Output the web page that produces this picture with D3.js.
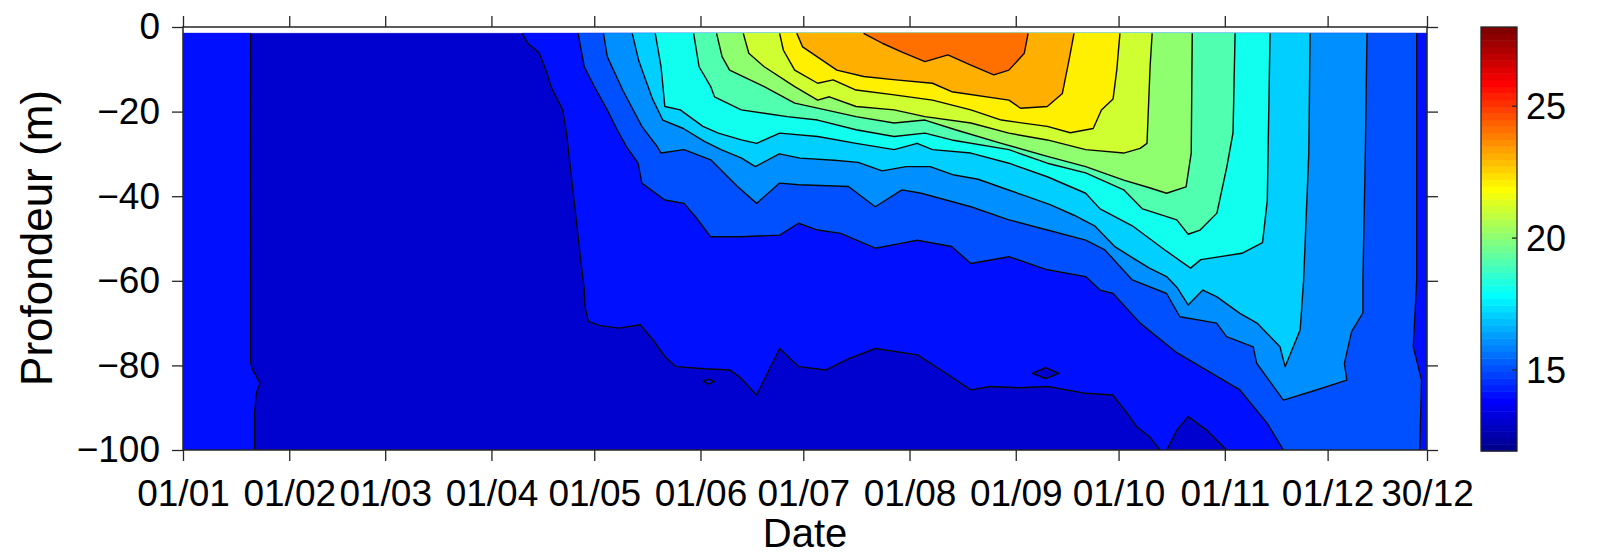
<!DOCTYPE html>
<html>
<head>
<meta charset="utf-8">
<script src="https://cdn.jsdelivr.net/npm/d3@7"></script>
<style>
  body { margin: 0; background: #fff; }
  text { font-family: "Liberation Sans", Arial, Helvetica, sans-serif; fill: #000; }
</style>
</head>
<body>
<svg id="chart" width="1603" height="558"></svg>
<script>
// Seasonal temperature section: isotherm positions as [day of year, depth (m)]
const dateTicks = ["01/01","01/02","01/03","01/04","01/05","01/06","01/07","01/08","01/09","01/10","01/11","01/12","30/12"];
const depthTicks = [0, -20, -40, -60, -80, -100];
const colorTicks = [15, 20, 25];
const tempRange = [11.93, 28];
const baseLevel = 13;
const firstDay = 0, lastDay = 363, topDepth = 1.5, bottomDepth = 100;

const iso14Jan = [[19.76,1.5],[19.7,30],[19.76,60],[19.76,79.5],[20.3,81],[22.5,84.2],[21.4,86.6],[20.9,91.3],[20.9,100]];
const iso14Main = [[99,1.5],[100.7,3.9],[104,6.2],[106.3,11],[107.4,14.1],[110.8,19.6],[111.9,25],[114.1,40.9],[116.3,56.7],[117.1,62],[117.3,66],[118.3,69.6],[121.7,70.6],[127.2,71.2],[133.4,70.4],[137.2,74],[140.6,77.9],[143.9,80.3],[152,80.8],[159.6,81.1],[162.4,82.7],[167.4,87],[174.1,76],[179.7,80.3],[187.5,81.1],[194,78.5],[202,76],[214.3,77.5],[222,81.5],[229.9,85.8],[235.5,85],[244,85.3],[252.3,85],[263.4,86.6],[271.3,87],[275.5,91.3],[278.3,94.5],[282.2,97],[285.1,100]];
const iso14Pocket = [[287.1,100],[290,95.3],[293.3,92.1],[298.7,95.3],[304.5,100]];
const iso14Spot = [[151.8,83.8],[153.4,83.3],[155,83.8],[153.4,84.4]];
const iso14Lens = [[247.8,81.9],[251.7,80.5],[255.6,81.9],[251.7,83.1]];
const iso15Left = [[115.3,1.5],[117.1,9.4],[120,14],[123.8,19.6],[126.5,24],[129.4,28.3],[132.8,32.2],[133.9,36.9],[140.6,40.9],[146.2,41.7],[149.5,44.8],[154,49.6],[162.9,49.6],[174.1,49.2],[179.6,46.4],[185.2,48],[191.9,48.8],[202,52.3],[209.8,51.1],[214.2,50.4],[224.3,51.9],[229.9,55.9],[241,54.3],[252.2,57.4],[263.4,59],[267.6,62.2],[271.4,63],[279.3,70],[290,77],[308.4,85.8],[316.3,93.6],[321.1,100]];
const iso15Right = [[360,1.5],[360,59.8],[359,75.6],[361.4,83.5],[360.9,100]];
const iso16 = [[122.7,1.5],[123.8,7],[128.3,14.9],[133.9,23.5],[138.4,28.3],[139.5,29.8],[146.2,29],[154,31.4],[161.8,37.7],[167.4,41.7],[174.1,36.9],[179.6,37.3],[194.2,37.7],[202,42.5],[209.8,38.5],[215.4,39.3],[229.9,42.5],[241,45.6],[252.2,48],[263.4,50.4],[269,52.7],[277,59.8],[287,63],[290.9,68.5],[301.6,70],[304.5,73.2],[312.3,75.6],[313.3,79.5],[321.1,88.2],[330,86],[339.6,83.5],[338.9,79.5],[341,72],[344.3,67.6],[344.3,59.8],[345,30],[345.5,1.5]];
const iso17 = [[131.1,1.5],[133,8],[137,17],[140,22],[146,24],[152,27],[157,29],[163,31],[167,33],[174,30],[180,31],[190,31.5],[197,32],[204,34],[211,33],[218,33],[225,35],[232,36],[239,38],[246,40],[253,42],[260,44.5],[266,47],[272,52],[277,54.5],[282,57],[287,59],[290,61.5],[293.3,65.7],[297.6,62.2],[301.7,63.8],[308.4,67.7],[313.4,70],[320.1,75.6],[321.6,80.3],[326,71.6],[327,59.8],[328.5,30],[328.9,1.5]];
const iso18 = [[137.8,1.5],[139.5,9.4],[140.6,18.8],[145.1,19.6],[151.7,23.5],[156.2,25.1],[162.9,26.7],[167.4,27.5],[174.1,25.1],[185.2,25.9],[196.4,27.5],[207.5,29],[214.2,27.5],[218.7,29],[229.9,29.8],[241,32.2],[252.2,35.4],[263.4,39.3],[267.6,43],[277,47],[287,53],[294,57],[297,55],[309,53.5],[315,51],[316.4,41],[317.2,1.5]];
const iso19 = [[149,1.5],[150.6,9.4],[154,14.1],[155.1,16.5],[162.9,19.6],[169.6,20.4],[176.3,21.2],[185.2,22],[196.4,24.3],[207.5,25.9],[216.5,25.1],[224.3,26.7],[241,29],[252.2,32.2],[263.4,34.5],[274.5,38.5],[280,43],[290,45.6],[293.3,49],[296.8,48],[301.7,44],[304.6,33],[306.4,25],[307,1.5]];
const iso20 = [[155.7,1.5],[157.3,7],[159.5,10.2],[169.6,14.1],[178.5,18],[187.5,19.6],[196.4,21.2],[207.5,22.7],[216.5,22],[225.4,24.3],[238.8,27.5],[252.2,30.6],[263.4,33],[274.5,36.2],[282,38],[287,39.3],[292.7,37.8],[294.2,29.8],[294.5,1.5]];
const iso21 = [[163.5,1.5],[165.1,6.2],[169.6,9.4],[178.5,14.1],[185.2,17.3],[188.6,16.5],[196.4,18.8],[207.5,19.6],[216.5,21.2],[229.9,22.7],[241,25.1],[252.2,26.7],[263.4,29],[274.5,29.8],[279.3,28.7],[281.3,27.5],[282.2,9.4],[282.8,1.5]];
const iso22 = [[174.1,1.5],[175.2,5.5],[178.5,10.2],[185.2,13.3],[189.7,12.5],[196.4,14.9],[207,16],[218.7,17.3],[229.9,19.6],[238.8,22],[252.2,23.5],[258.9,25],[265.6,24],[268,19.6],[271.4,17],[272.5,10],[273.4,1.5]];
const iso23 = [[179.1,1.5],[180.8,4.7],[190.8,10.2],[198.6,11.7],[208,12.5],[218.7,13.3],[224.3,15.3],[241,17.3],[244.4,19.2],[252.2,18.8],[256.6,15.7],[258.5,8],[260,1.5]];
const iso24 = [[198.6,1.5],[204.2,3.9],[210,6],[216.5,8.2],[223.2,6.6],[229.9,9],[236.6,11.3],[241,10.2],[245.5,6.2],[246.6,1.5]];

// ---- scales ----
const parseDay = d3.utcParse("%d/%m/%Y");
const tickDates = dateTicks.map(s => parseDay(s + "/2021"));
const t0 = tickDates[0].getTime();
const dayToDate = d => new Date(t0 + d * 864e5);

const x = d3.scaleUtc().domain([tickDates[0], tickDates[tickDates.length - 1]]).range([183, 1427]);
const y = d3.scaleLinear().domain([-100, 0]).range([450, 27]);

// classic 64-step "jet" colour map
const jet64 = d3.range(64).map(k => {
  const i = k + 1;
  const r = i <= 24 ? 0 : i <= 40 ? (i - 24) / 16 : i <= 56 ? 1 : (72 - i) / 16;
  const g = i <= 8 ? 0 : i <= 24 ? (i - 8) / 16 : i <= 40 ? 1 : i <= 56 ? (56 - i) / 16 : 0;
  const b = i <= 8 ? (8 + i) / 16 : i <= 24 ? 1 : i <= 40 ? (40 - i) / 16 : 0;
  return d3.rgb(Math.round(255 * r), Math.round(255 * g), Math.round(255 * b)).toString();
});
const color = d3.scaleQuantize().domain(tempRange).range(jet64);

const toPx = p => [x(dayToDate(p[0])), y(-p[1])];
const lineGen = d3.line();
const polyPath = pts => lineGen(pts.map(toPx)) + "Z";

const svg = d3.select("#chart");
const ink = "#262626";

svg.append("clipPath").attr("id", "plotClip")
  .append("rect").attr("x", 183).attr("y", 27).attr("width", 1244).attr("height", 423);

const field = svg.append("g").attr("clip-path", "url(#plotClip)");

// filled bands, lowest first; each band takes the colour of its lower level
const bands = [
  { level: baseLevel, pts: [[firstDay, topDepth], [lastDay, topDepth], [lastDay, bottomDepth], [firstDay, bottomDepth]] },
  { level: 14, pts: [[firstDay, topDepth], ...iso14Jan, [firstDay, bottomDepth]] },
  { level: 14, pts: [...iso14Main, ...iso14Pocket, [lastDay, bottomDepth], [lastDay, topDepth]] },
  { level: 14, pts: iso14Spot },
  { level: baseLevel, pts: iso14Lens },
  { level: 15, pts: [...iso15Left, ...iso15Right.slice().reverse()] },
  { level: 16, pts: iso16 },
  { level: 17, pts: iso17 },
  { level: 18, pts: iso18 },
  { level: 19, pts: iso19 },
  { level: 20, pts: iso20 },
  { level: 21, pts: iso21 },
  { level: 22, pts: iso22 },
  { level: 23, pts: iso23 },
  { level: 24, pts: iso24 }
];

field.selectAll("path.band").data(bands).join("path")
  .attr("class", "band")
  .attr("d", d => polyPath(d.pts))
  .attr("fill", d => color(d.level))
  .attr("stroke", d => color(d.level))
  .attr("stroke-width", 0.6);

// isotherm lines
const openLines = [iso14Jan, iso14Main, iso14Pocket, iso15Left, iso15Right, iso16, iso17, iso18, iso19, iso20, iso21, iso22, iso23, iso24];
const closedLines = [iso14Spot, iso14Lens];
field.selectAll("path.iso").data(openLines).join("path")
  .attr("class", "iso")
  .attr("d", d => lineGen(d.map(toPx)))
  .attr("fill", "none").attr("stroke", "#080808").attr("stroke-width", 1.4).attr("stroke-linejoin", "round");
field.selectAll("path.isoc").data(closedLines).join("path")
  .attr("class", "isoc")
  .attr("d", d => polyPath(d))
  .attr("fill", "none").attr("stroke", "#080808").attr("stroke-width", 1.4).attr("stroke-linejoin", "round");

// ---- axes ----
function styleAxis(g) {
  g.select(".domain").remove();
  g.selectAll(".tick line").attr("stroke", ink).attr("stroke-width", 1.3);
  g.selectAll(".tick text").attr("font-size", 37).attr("fill", "#000")
    .style("font-family", '"Liberation Sans", Arial, sans-serif');
}
svg.append("g").attr("transform", "translate(0,450)")
  .call(d3.axisBottom(x).tickValues(tickDates).tickFormat(d3.utcFormat("%d/%m")).tickSize(11).tickPadding(19))
  .call(styleAxis);
svg.append("g").attr("transform", "translate(0,27)")
  .call(d3.axisTop(x).tickValues(tickDates).tickFormat("").tickSize(11))
  .call(styleAxis);
svg.append("g").attr("transform", "translate(183,0)")
  .call(d3.axisLeft(y).tickValues(depthTicks).tickSize(11).tickPadding(12))
  .call(styleAxis);
svg.append("g").attr("transform", "translate(1427,0)")
  .call(d3.axisRight(y).tickValues(depthTicks).tickFormat("").tickSize(11))
  .call(styleAxis);

svg.append("rect").attr("x", 183).attr("y", 27).attr("width", 1244).attr("height", 423)
  .attr("fill", "none").attr("stroke", ink).attr("stroke-width", 1.5);

svg.append("text").attr("x", 805).attr("y", 547).attr("text-anchor", "middle")
  .attr("font-size", 40).text("Date");
svg.append("text").attr("transform", "translate(52,238) rotate(-90)").attr("text-anchor", "middle")
  .attr("font-size", 44).text("Profondeur (m)");

// ---- colour bar (one cell per colour-map entry) ----
const cb = { x: 1481, w: 36 };
const cy = d3.scaleLinear().domain(tempRange).range([451, 27]);
const step = (tempRange[1] - tempRange[0]) / jet64.length;
svg.append("g").selectAll("rect").data(jet64).join("rect")
  .attr("x", cb.x).attr("width", cb.w)
  .attr("y", (c, k) => cy(tempRange[0] + (k + 1) * step))
  .attr("height", (c, k) => cy(tempRange[0] + k * step) - cy(tempRange[0] + (k + 1) * step) + 0.5)
  .attr("fill", c => c);
svg.append("rect").attr("x", cb.x).attr("y", cy(tempRange[1])).attr("width", cb.w)
  .attr("height", cy(tempRange[0]) - cy(tempRange[1]))
  .attr("fill", "none").attr("stroke", ink).attr("stroke-width", 1.3);
const cbTicks = svg.append("g");
cbTicks.selectAll("line.r").data(colorTicks).join("line").attr("class", "r")
  .attr("x1", cb.x + cb.w - 5).attr("x2", cb.x + cb.w)
  .attr("y1", d => cy(d)).attr("y2", d => cy(d)).attr("stroke", ink).attr("stroke-width", 1.3);
cbTicks.selectAll("text").data(colorTicks).join("text")
  .attr("x", cb.x + cb.w + 9).attr("y", d => cy(d)).attr("dy", "0.35em")
  .attr("font-size", 36).text(d => d);
</script>
</body>
</html>
